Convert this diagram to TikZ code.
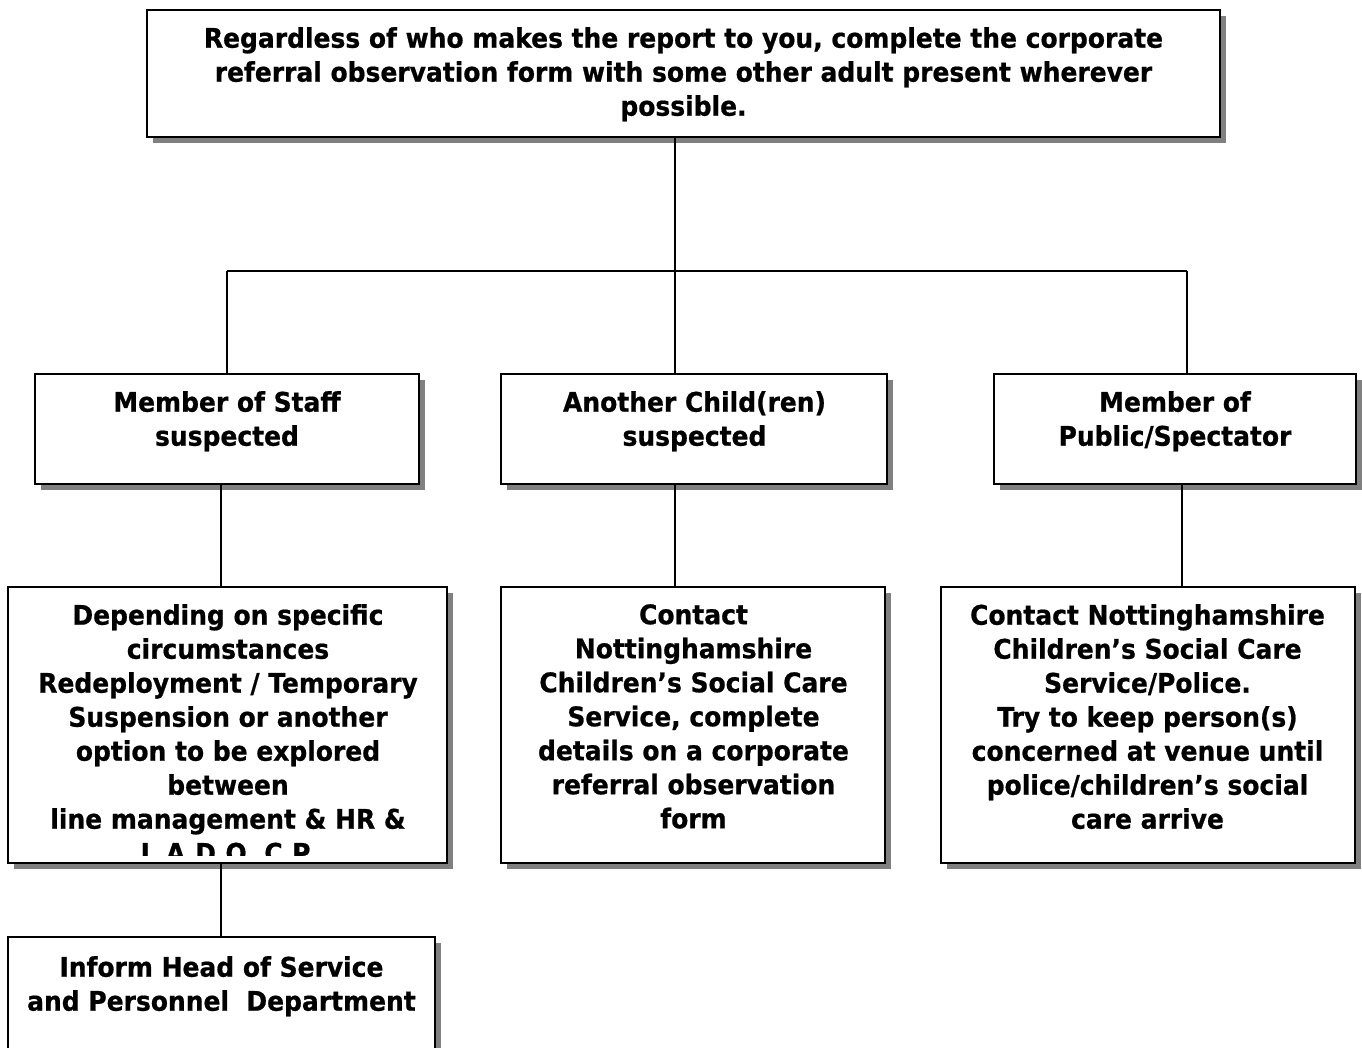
\documentclass[tikz,border=0pt]{standalone}
\usepackage{fontspec}
\setmainfont[FakeStretch=0.925, BoldFeatures={FakeBold=0.7}]{DejaVu Sans}
\usetikzlibrary{shadows}
\begin{document}
\begin{tikzpicture}[x=1pt,y=-1pt,
  box/.style={draw=black, line width=1.6pt, fill=white, rectangle, inner sep=0pt,
    drop shadow={shadow xshift=6pt, shadow yshift=-6pt, fill=black!50, opacity=1}},
  txt/.style={font=\bfseries\fontsize{27}{34}\selectfont, align=center, anchor=north, inner sep=0pt},
  conn/.style={line width=1.2pt, draw=black}]
\useasboundingbox (0,0) rectangle (1362,1048);
\clip (0,0) rectangle (1362,1048);
\fill[white] (0,0) rectangle (1362,1048);
% boxes
\node[box, minimum width=1073pt, minimum height=127pt] (top) at (683.5,73.5) {};
\node[box, minimum width=384pt, minimum height=110pt] (s2) at (227,429) {};
\node[box, minimum width=386pt, minimum height=110pt] (c2) at (694,429) {};
\node[box, minimum width=362pt, minimum height=110pt] (p2) at (1175,429) {};
\node[box, minimum width=439pt, minimum height=276pt] (s3) at (227.5,725) {};
\node[box, minimum width=384pt, minimum height=276pt] (c3) at (693,725) {};
\node[box, minimum width=414pt, minimum height=276pt] (p3) at (1148,725) {};
\node[box, minimum width=427pt, minimum height=180pt] (s4) at (221.5,1027) {};
% texts
\node[txt] (ttop) at (683.5,27) {Regardless of who makes the report to you, complete the corporate\\referral observation form with some other adult present wherever\\possible.};
\node[txt] (ts2) at (227,391) {Member of Staff\\suspected};
\node[txt] (tc2) at (694.5,391) {Another Child(ren)\\suspected};
\node[txt] (tp2) at (1175,391) {Member of\\Public/Spectator};
\begin{scope}
\clip ([yshift=8pt]s3.south west) rectangle (s3.north east);
\node[txt] (ts3) at (228,604) {Depending on specific\\circumstances\\Redeployment / Temporary\\Suspension or another\\option to be explored\\between\\line management \& HR \&\\L.A.D.O. C.P.};
\end{scope}
\node[txt] (tc3) at (693.5,604) {Contact\\Nottinghamshire\\Children’s Social Care\\Service, complete\\details on a corporate\\referral observation\\form};
\node[txt] (tp3) at (1147.5,604) {Contact Nottinghamshire\\Children’s Social Care\\Service/Police.\\Try to keep person(s)\\concerned at venue until\\police/children’s social\\care arrive};
\node[txt] (ts4) at (221.5,956) {Inform Head of Service\\and Personnel\ \ Department};
% connectors
\coordinate (hub) at (675,271);
\coordinate (busL) at (227,271);
\coordinate (busR) at (1187,271);
\draw[conn] (top.south -| hub) -- (hub);
\draw[conn] (busL) -- (busR);
\draw[conn] (busL) -- (s2.north -| busL);
\draw[conn] (hub) -- (c2.north -| hub);
\draw[conn] (busR) -- (p2.north -| busR);
\coordinate (sx) at (221,0);
\coordinate (px) at (1182,0);
\draw[conn] (s2.south -| sx) -- (s3.north -| sx);
\draw[conn] (c2.south -| hub) -- (c3.north -| hub);
\draw[conn] (p2.south -| px) -- (p3.north -| px);
\draw[conn] (s3.south -| sx) -- (s4.north -| sx);
\end{tikzpicture}
\end{document}
